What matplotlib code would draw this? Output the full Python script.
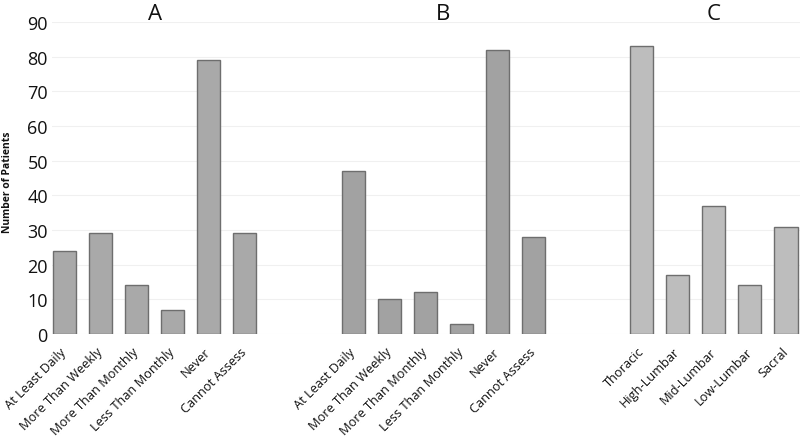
import matplotlib
matplotlib.use("Agg")
import matplotlib.pyplot as plt
import numpy as np

plt.rcParams["font.family"] = ["Open Sans", "DejaVu Sans"]

# panel A / B: frequency categories
freq_labels = ["At Least Daily", "More Than Weekly", "More Than Monthly",
               "Less Than Monthly", "Never", "Cannot Assess"]
a_values = [24, 29, 14, 7, 79, 29]
b_values = [47, 10, 12, 3, 82, 28]

# panel C: lesion level
level_labels = ["Thoracic", "High-Lumbar", "Mid-Lumbar", "Low-Lumbar", "Sacral"]
c_values = [83, 17, 37, 14, 31]

panel_titles = ["A", "B", "C"]
yticks = list(range(0, 100, 10))

# group start positions on a shared category axis (two empty slots between groups)
starts = [0, 8, 16]
groups = [
    (freq_labels, a_values, "#a9a9a9"),
    (freq_labels, b_values, "#a2a2a2"),
    (level_labels, c_values, "#bdbdbd"),
]

W, H = 800, 439
fig = plt.figure(figsize=(W / 100, H / 100), dpi=100)

# pixel geometry of plot area
x0_px, y0_px, ytop_px = 52, 335, 23
idx0_px, step_px = 64.5, 36.075
ax = fig.add_axes([x0_px / W, (H - y0_px) / H,
                   (W - x0_px) / W, (y0_px - ytop_px) / H])

tick_pos, tick_lab = [], []
for (labels, vals, col), s, ttl in zip(groups, starts, panel_titles):
    xs = np.arange(len(vals)) + s
    ax.bar(xs, vals, width=0.64, color=col, edgecolor="#6e6e6e",
           linewidth=1.0, zorder=3)
    tick_pos.extend(xs)
    tick_lab.extend(labels)
    ax.text(xs.mean(), 1.026, ttl, transform=ax.get_xaxis_transform(),
            ha="center", va="center", fontsize=16, color="#111111")

ax.set_xlim((x0_px - idx0_px) / step_px, (W - idx0_px) / step_px)
ax.set_ylim(0, 90)
ax.set_yticks(yticks)
ax.yaxis.grid(True, color="#f0f0f0", linewidth=0.8, zorder=0)
ax.set_axisbelow(True)
for sp in ax.spines.values():
    sp.set_visible(False)

ax.set_xticks(tick_pos)
ax.set_xticklabels(tick_lab, rotation=45, ha="right", va="center",
                   rotation_mode="anchor", fontsize=9.2, color="#111111")
ax.tick_params(axis="x", length=0, pad=11)
ax.tick_params(axis="y", length=0, pad=3, labelsize=13, labelcolor="#111111")

fig.text(8 / W, (H - 182) / H, "Number of Patients", rotation=90,
         ha="center", va="center", fontsize=7.5, fontweight="bold",
         color="#111111")

fig.savefig("out.png", dpi=100)
